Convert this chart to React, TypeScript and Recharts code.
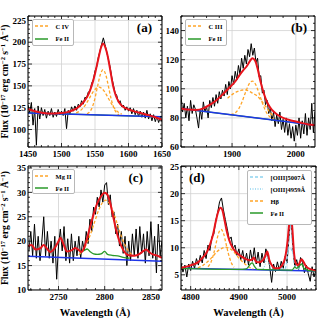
import React from "react";
import { ComposedChart, Line, XAxis, YAxis, CartesianGrid } from "recharts";

const W = 325;
const H = 320;
const SERIF = "'Liberation Serif', 'Times New Roman', serif";
const RED = "#e8141c";
const BLUE = "#1e35e8";
const ORANGE = "#ffa528";
const GREEN = "#2a9a2a";
const SKY = "#8fd3f0";

type Pt = [number, number];

// ---------- (a) C IV ----------
const specA: Pt[] = [
  [1450, 128], [1452.5, 119], [1455, 131], [1457.5, 105], [1460, 124], [1462.5, 82], [1465, 127], [1467.5, 112],
  [1470, 125], [1472.5, 116], [1475, 123], [1477.5, 113], [1480, 121], [1482.5, 116], [1485, 124], [1487.5, 114],
  [1490, 120], [1492.5, 115], [1495, 123], [1497.5, 117], [1500, 121], [1502.5, 116], [1505, 124], [1507.5, 101],
  [1510, 122], [1512.5, 118], [1515, 126], [1517.5, 121], [1520, 127], [1522.5, 122], [1525, 129], [1527.5, 126],
  [1530, 133], [1532.5, 129], [1535, 137], [1537.5, 136], [1540, 143], [1542.5, 144], [1545, 153], [1547.5, 157],
  [1550, 167], [1552.5, 172], [1555, 183], [1557.5, 190], [1560, 198], [1562.5, 205], [1565, 197], [1567.5, 189],
  [1570, 180], [1572.5, 172], [1575, 160], [1577.5, 151], [1580, 142], [1582.5, 139], [1585, 131], [1587.5, 133],
  [1590, 126], [1592.5, 128], [1595, 122], [1597.5, 126], [1600, 121], [1602.5, 125], [1605, 118], [1607.5, 124],
  [1610, 117], [1612.5, 122], [1615, 115], [1617.5, 121], [1620, 114], [1622.5, 120], [1625, 113], [1627.5, 122],
  [1630, 112], [1632.5, 118], [1635, 110], [1637.5, 117], [1640, 109], [1642.5, 115], [1645, 108], [1647.5, 114],
  [1650, 109],
];
const fitA: Pt[] = [
  [1450, 123.5], [1460, 121], [1470, 119.3], [1480, 118.4], [1490, 118.3], [1500, 118.8], [1510, 120.2], [1520, 123],
  [1528, 127.5], [1534, 132.5], [1540, 140], [1545, 150], [1550, 164], [1555, 181], [1559, 194], [1562, 198.5],
  [1565, 195], [1569, 184], [1573, 167], [1577, 150], [1581, 139], [1586, 131], [1592, 126], [1600, 123],
  [1610, 120.5], [1620, 118.5], [1630, 116.5], [1640, 114], [1650, 111],
];
const contA: Pt[] = [[1450, 119], [1650, 114.5]];
const feA: Pt[] = [[1450, 119], [1650, 114.5]];
const civNarrow: Pt[] = [
  [1538, 118], [1542, 120.2], [1546, 125.7], [1550, 135.9], [1554, 150.1], [1558, 163.1], [1562, 168.5],
  [1566, 162.9], [1570, 149.7], [1574, 135.4], [1578, 125], [1582, 119.3], [1586, 116.9],
];
const civBroad: Pt[] = [
  [1522, 119.1], [1528, 121.6], [1532, 124.5], [1536, 128.6], [1540, 133.6], [1544, 139.1], [1548, 144],
  [1552, 147.4], [1556, 148.6], [1560, 147.2], [1564, 143.6], [1568, 138.5], [1572, 132.9], [1576, 127.7],
  [1580, 123.4], [1584, 120.3], [1590, 117.6],
];
const xTicksA = [1450, 1500, 1550, 1600, 1650];
const yTicksA = [100, 125, 150, 175, 200, 225];

// ---------- (b) C III ----------
const specB: Pt[] = [
  [1820, 95], [1822.5, 84], [1825, 90], [1827.5, 80], [1830, 88], [1832.5, 78], [1835, 92], [1837.5, 83],
  [1840, 89], [1842.5, 86], [1845, 80], [1847.5, 73], [1850, 86], [1852.5, 79], [1855, 91], [1857.5, 84],
  [1860, 88], [1862.5, 80], [1865, 92], [1867.5, 87], [1870, 94], [1872.5, 88], [1875, 96], [1877.5, 90],
  [1880, 98], [1882.5, 93], [1885, 99], [1887.5, 95], [1890, 103], [1892.5, 96], [1895, 105], [1897.5, 100],
  [1900, 109], [1902.5, 103], [1905, 112], [1907.5, 106], [1910, 116], [1912.5, 110], [1915, 121], [1917.5, 114],
  [1920, 123], [1922.5, 117], [1925, 127], [1927.5, 122], [1930, 131], [1932.5, 123], [1935, 128], [1937.5, 118],
  [1940, 121], [1942.5, 108], [1945, 109], [1947.5, 97], [1950, 99], [1952.5, 89], [1955, 92], [1957.5, 83],
  [1960, 87], [1962.5, 78], [1965, 84], [1967.5, 74], [1970, 82], [1972.5, 76], [1975, 84], [1977.5, 72],
  [1980, 79], [1982.5, 70], [1985, 80], [1987.5, 68], [1990, 76], [1992.5, 66], [1995, 74], [1997.5, 64],
  [2000, 75], [2002.5, 68], [2005, 80], [2007.5, 66], [2010, 78], [2012.5, 69], [2015, 83], [2017.5, 68],
  [2020, 80], [2022.5, 72], [2025, 90], [2027.5, 70], [2030, 84],
];
const fitB: Pt[] = [
  [1820, 86.4], [1830, 85.7], [1843, 85.4], [1855, 86.5], [1865, 89], [1875, 92], [1885, 96], [1895, 100.5],
  [1905, 105], [1912, 109.5], [1918, 113], [1923, 115.5], [1928, 119], [1932, 121], [1936, 119.5], [1940, 114],
  [1944, 106], [1948, 99.5], [1952, 94], [1957, 89], [1963, 85.3], [1970, 82.5], [1980, 80], [1990, 78.5],
  [2000, 77.5], [2010, 76.4], [2020, 75.5], [2030, 75],
];
const contB: Pt[] = [[1820, 86.4], [2030, 75]];
const feB: Pt[] = [[1820, 86.4], [2030, 75]];
const ciiiNarrow: Pt[] = [
  [1898, 82.3], [1904, 83.2], [1910, 85.9], [1916, 91.4], [1922, 98.6], [1927, 103.6], [1932, 105.3],
  [1937, 102.9], [1942, 97.4], [1948, 89.7], [1954, 83.7], [1960, 80.4], [1966, 79],
];
const ciiiBroad: Pt[] = [
  [1893, 93.5], [1900, 96], [1908, 98], [1915, 99], [1920, 99.2], [1926, 98.5], [1932, 97], [1938, 95.5],
  [1944, 93], [1950, 89.5], [1955, 86.5], [1960, 83.5], [1966, 80.5],
];
const xTicksB = [1900, 2000];
const yTicksB = [60, 80, 100, 120, 140];

// ---------- (c) Mg II ----------
const specC: Pt[] = [
  [2718, 18], [2720, 22], [2722, 17], [2724, 23.5], [2726, 16.5], [2728, 21], [2730, 16], [2732, 20],
  [2734, 25], [2736, 17], [2738, 22], [2740, 16.5], [2742, 20], [2744, 15.5], [2746, 21], [2748, 12.2],
  [2750, 19], [2752, 22.5], [2754, 18], [2756, 23], [2758, 16], [2760, 20.5], [2762, 15.5], [2764, 21.5],
  [2766, 16], [2768, 20], [2770, 17], [2772, 21], [2774, 16.5], [2776, 20], [2778, 18], [2780, 22],
  [2782, 19.5], [2784, 24.5], [2786, 22], [2788, 27], [2790, 25.5], [2792, 29], [2794, 27], [2796, 30.5],
  [2798, 28], [2800, 31.5], [2802, 32], [2804, 27.5], [2806, 29.5], [2808, 25], [2810, 26], [2812, 21.5],
  [2814, 23.5], [2816, 19], [2818, 22], [2820, 17.5], [2822, 21], [2824, 15], [2826, 20], [2828, 16],
  [2830, 21.5], [2832, 17], [2834, 22.5], [2836, 16.5], [2838, 23], [2840, 17.5], [2842, 21.5], [2844, 15.5],
  [2846, 22], [2848, 17], [2850, 24], [2852, 16.5], [2854, 21], [2856, 13.5], [2858, 23.5], [2860, 17],
  [2862, 20],
];
const fitC: Pt[] = [
  [2717, 19], [2721, 19.2], [2725, 18.3], [2730, 18.5], [2734, 19.2], [2737, 18.6], [2741, 17.8], [2746, 18.6],
  [2750, 20], [2752, 20.7], [2755, 19.6], [2759, 17.9], [2764, 18.1], [2768, 18.6], [2771, 18.3], [2775, 17.8],
  [2778, 18.8], [2781, 20.6], [2784, 22.8], [2788, 25.5], [2792, 27.8], [2796, 29.2], [2800, 29.9], [2803, 29.5],
  [2806, 27.8], [2809, 25.2], [2812, 22.6], [2815, 20.5], [2818, 19], [2821, 17.9], [2826, 17.1], [2832, 17],
  [2838, 17.4], [2842, 18], [2845, 18.3], [2848, 17.8], [2852, 17.3], [2856, 17.1], [2862, 16.6],
];
const contC: Pt[] = [[2717, 16.9], [2862, 15.9]];
const mgii: Pt[] = [
  [2772, 17.2], [2778, 18.6], [2784, 21.1], [2789, 23.9], [2794, 26.6], [2798, 28], [2801, 28.4], [2804, 28],
  [2808, 26.6], [2813, 23.9], [2818, 21], [2824, 18.5], [2830, 17.1],
];
const feC: Pt[] = [
  [2775, 17.9], [2778, 18.1], [2781, 18.4], [2784, 17.9], [2788, 17.4], [2792, 17.3], [2796, 17.4], [2800, 17.9],
  [2803, 17.3], [2808, 17.1], [2814, 17], [2820, 16.7], [2827, 16.5],
];
const xTicksC = [2750, 2800, 2850];
const yTicksC = [10, 15, 20, 25, 30, 35];

// ---------- (d) H beta ----------
const specD: Pt[] = [
  [4780, 7.2], [4784, 5.5], [4788, 6.8], [4792, 4.6], [4796, 7], [4800, 5.8], [4804, 7.5], [4808, 6.2],
  [4812, 8], [4816, 6.8], [4820, 8.6], [4824, 7.2], [4828, 9.5], [4832, 8], [4836, 10.5], [4840, 9.5],
  [4844, 12], [4848, 12.5], [4852, 15], [4856, 16.5], [4860, 18.5], [4864, 19.2], [4868, 17], [4872, 15.2],
  [4876, 13.5], [4880, 11.5], [4884, 12], [4888, 9.8], [4892, 10.5], [4896, 8.6], [4900, 9.8], [4904, 7.8],
  [4908, 9.5], [4912, 7.2], [4916, 9], [4920, 6.8], [4924, 9.6], [4928, 7.5], [4932, 10], [4936, 7],
  [4940, 9.2], [4944, 6.5], [4948, 9], [4952, 7.2], [4956, 9.8], [4960, 8.5], [4964, 6.5], [4968, 3.6],
  [4972, 7], [4976, 5.6], [4980, 7.4], [4984, 5.8], [4988, 7.5], [4992, 6.2], [4996, 8.4], [5000, 7.2],
  [5004, 12], [5008, 16.2], [5012, 10], [5016, 6.5], [5020, 7.8], [5024, 6], [5028, 8.2], [5032, 7.3],
  [5036, 5.4], [5040, 6.8], [5044, 5.2], [5048, 3.8], [5052, 6.5], [5056, 4.6], [5060, 6],
];
const fitD: Pt[] = [
  [4780, 6.3], [4795, 6.6], [4805, 6.9], [4815, 7.3], [4823, 8], [4830, 8.7], [4836, 9.6], [4841, 10.8],
  [4846, 12.3], [4852, 14.8], [4857, 16.6], [4862, 17.4], [4866, 16.9], [4870, 15.2], [4875, 13], [4880, 11.4],
  [4887, 10], [4895, 9.1], [4905, 8.4], [4915, 7.9], [4922, 7.7], [4927, 7.8], [4931, 8.2], [4935, 7.5],
  [4942, 7.3], [4950, 7.7], [4955, 8.5], [4959, 9.3], [4963, 7.8], [4968, 6.8], [4975, 6.2], [4982, 6.2],
  [4990, 6.8], [4996, 8.2], [5001, 11.2], [5005, 14.8], [5008, 16], [5011, 13.5], [5014, 9.5], [5018, 7.2],
  [5023, 6.8], [5027, 7.4], [5030, 7.9], [5034, 7.4], [5040, 6.5], [5050, 6], [5060, 5.8],
];
const contD: Pt[] = [[4780, 6.2], [5060, 5.7]];
const hbNarrow: Pt[] = [
  [4836, 6.5], [4842, 7.3], [4848, 9], [4853, 10.9], [4858, 12.7], [4863, 13.4], [4868, 12.7], [4873, 10.9],
  [4878, 9], [4884, 7.3], [4890, 6.4],
];
const hbBroad: Pt[] = [
  [4815, 6.3], [4825, 6.7], [4835, 7.4], [4845, 8.3], [4855, 9.3], [4865, 9.9], [4872, 10.1], [4880, 9.9],
  [4890, 9.2], [4900, 8.1], [4910, 7.2], [4920, 6.5], [4930, 6.1],
];
const o3Core: Pt[] = [
  [4996, 6.1], [4999, 7.2], [5002, 9.6], [5005, 13.2], [5007, 15.2], [5009, 13.2], [5012, 9.6], [5015, 7.2], [5018, 6.1],
];
const o3Wing: Pt[] = [
  [4986, 6], [4992, 6.8], [4997, 8.2], [5002, 9.5], [5006, 10], [5010, 9.5], [5015, 8.2], [5020, 6.8], [5026, 6],
];
const o3Weak: Pt[] = [[4950, 6.1], [4954, 6.8], [4957, 8], [4959, 8.5], [4961, 8], [4964, 6.8], [4968, 6.1]];
const feD: Pt[] = [
  [4780, 6.2], [4900, 6], [4915, 6.1], [4920, 6.5], [4924, 7], [4928, 7.2], [4932, 6.6], [4938, 6],
  [5010, 5.85], [5016, 6.4], [5020, 6.2], [5026, 6.7], [5030, 7], [5035, 6.2], [5045, 5.8], [5060, 5.7],
];
const xTicksD = [4800, 4900, 5000];
const yTicksD = [5, 10, 15, 20, 25];

// ---------- helpers ----------
const tickFont = { fontSize: 9, fontWeight: 700, fill: "#000", fontFamily: SERIF };
const tl = { stroke: "#000", strokeWidth: 0.8 };
const frameLine = { stroke: "#000", strokeWidth: 1 };
const blank = () => "";

function minor(lo: number, hi: number, step: number, major: number[]) {
  const out: number[] = [];
  for (let v = Math.ceil(lo / step) * step; v <= hi + 1e-9; v += step) {
    const r = Math.round(v * 100) / 100;
    if (!major.includes(r)) out.push(r);
  }
  return out;
}

function Tag(props: any) {
  const vb = props.viewBox ?? { x: 0, y: 0, width: 0 };
  const right = props.side !== "left";
  return (
    <text
      x={right ? vb.x + vb.width - props.gap : vb.x + props.gap}
      y={vb.y + 16}
      textAnchor={right ? "end" : "start"}
      fontFamily={SERIF}
      fontWeight={700}
      fontSize={13}
      fill="#000"
    >
      {props.txt}
    </text>
  );
}

function XTitle(props: any) {
  const vb = props.viewBox ?? { x: 0, y: 0, width: 0 };
  return (
    <text x={vb.x + vb.width / 2} y={vb.y + 26.5} textAnchor="middle" fontFamily={SERIF} fontWeight={700} fontSize={10.5} fill="#000">
      Wavelength (Å)
    </text>
  );
}

function FluxTitle(props: any) {
  const vb = props.viewBox ?? { x: 0, y: 0, height: 0 };
  const cy = vb.y + vb.height / 2;
  const up = -3.5;
  return (
    <text transform={`translate(${vb.x - 20},${cy}) rotate(-90)`} textAnchor="middle" fontFamily={SERIF} fontWeight={700} fontSize={9.6} fill="#000">
      <tspan>Flux (10</tspan>
      <tspan fontSize={6.5} dy={up}>−17</tspan>
      <tspan dy={-up}> erg cm</tspan>
      <tspan fontSize={6.5} dy={up}>−2</tspan>
      <tspan dy={-up}> s</tspan>
      <tspan fontSize={6.5} dy={up}>−1</tspan>
      <tspan dy={-up}> Å</tspan>
      <tspan fontSize={6.5} dy={up}>−1</tspan>
      <tspan dy={-up}>)</tspan>
    </text>
  );
}

type Series = { id: string; pts: Pt[]; color: string; width: number; dash?: string; curve?: "linear" | "monotone" };

interface PanelProps {
  box: [number, number, number, number];
  xDom: [number, number];
  yDom: [number, number];
  xMaj: number[];
  yMaj: number[];
  xStep: number;
  yStep: number;
  tag: string;
  tagSide: "left" | "right";
  tagGap: number;
  series: Series[];
  xTitle?: boolean;
  yTitle?: boolean;
}

function Panel({ box, xDom, yDom, xMaj, yMaj, xStep, yStep, tag, tagSide, tagGap, series, xTitle, yTitle }: PanelProps) {
  const [l, t, r, b] = box;
  const xMin = minor(xDom[0], xDom[1], xStep, xMaj);
  const yMin = minor(yDom[0], yDom[1], yStep, yMaj);
  const xc = { type: "number" as const, dataKey: "x", domain: xDom, allowDataOverflow: true, interval: 0 as const, height: 0.01, tickLine: tl };
  const yc = { type: "number" as const, domain: yDom, allowDataOverflow: true, interval: 0 as const, width: 0.01, tickLine: tl };
  return (
    <div style={{ position: "absolute", left: 0, top: 0 }}>
      <ComposedChart width={W} height={H} margin={{ left: l, top: t, right: W - r, bottom: H - b }}>
        <CartesianGrid stroke="#d2d2d2" strokeWidth={0.8} />
        <XAxis xAxisId={0} {...xc} ticks={xMaj} tickSize={-4} tickMargin={8} tick={tickFont} axisLine={frameLine} label={xTitle ? <XTitle /> : undefined} />
        <XAxis xAxisId="xm" {...xc} ticks={xMin} tickSize={-2} axisLine={false} tickFormatter={blank} />
        <XAxis xAxisId="xt" {...xc} orientation="top" ticks={xMaj} tickSize={-4} axisLine={frameLine} tickFormatter={blank} label={<Tag txt={tag} side={tagSide} gap={tagGap} />} />
        <XAxis xAxisId="xtm" {...xc} orientation="top" ticks={xMin} tickSize={-2} axisLine={false} tickFormatter={blank} />
        <YAxis yAxisId={0} {...yc} ticks={yMaj} tickSize={-4} tickMargin={6} tick={tickFont} axisLine={frameLine} label={yTitle ? <FluxTitle /> : undefined} />
        <YAxis yAxisId="ym" {...yc} ticks={yMin} tickSize={-2} axisLine={false} tickFormatter={blank} />
        <YAxis yAxisId="yr" {...yc} orientation="right" ticks={yMaj} tickSize={-4} axisLine={frameLine} tickFormatter={blank} />
        <YAxis yAxisId="yrm" {...yc} orientation="right" ticks={yMin} tickSize={-2} axisLine={false} tickFormatter={blank} />
        {series.map((s) => (
          <Line
            key={s.id}
            data={s.pts.map(([x, y]) => ({ x, y }))}
            dataKey="y"
            type={s.curve ?? "monotone"}
            stroke={s.color}
            strokeWidth={s.width}
            strokeDasharray={s.dash}
            dot={false}
            activeDot={false}
            legendType="none"
            isAnimationActive={false}
          />
        ))}
      </ComposedChart>
    </div>
  );
}

type Item = { name: string; color: string; dash?: string };

function LegendBox({ left, top, width, height, rowH, items }: { left: number; top: number; width: number; height: number; rowH: number; items: Item[] }) {
  return (
    <div
      style={{
        position: "absolute", left, top, width, height, boxSizing: "border-box",
        border: "1px solid #b8b8b8", borderRadius: 2, background: "#fff",
        fontFamily: SERIF, fontWeight: 700, fontSize: 6.5, color: "#000",
      }}
    >
      {items.map((it) => (
        <div key={it.name} style={{ display: "flex", alignItems: "center", height: rowH, paddingLeft: 1.5 }}>
          <svg width={13} height={4} style={{ display: "block" }}>
            <line x1={0} y1={2} x2={13} y2={2} stroke={it.color} strokeWidth={1.5} strokeDasharray={it.dash} />
          </svg>
          <span style={{ marginLeft: 8, whiteSpace: "nowrap" }}>{it.name}</span>
        </div>
      ))}
    </div>
  );
}

const DASH = "3 2";

export default function App() {
  return (
    <div style={{ position: "absolute", left: 0, top: 0, width: W, height: H, background: "#fff" }}>
      <Panel
        box={[28, 16, 162, 147]} xDom={[1450, 1650]} yDom={[80, 230]} xMaj={xTicksA} yMaj={yTicksA} xStep={10} yStep={5}
        tag="(a)" tagSide="right" tagGap={10} yTitle
        series={[
          { id: "spec", pts: specA, color: "#000", width: 1, curve: "linear" },
          { id: "civn", pts: civNarrow, color: ORANGE, width: 1.3, dash: DASH },
          { id: "civb", pts: civBroad, color: ORANGE, width: 1.3, dash: DASH },
          { id: "fe", pts: feA, color: GREEN, width: 1.3 },
          { id: "cont", pts: contA, color: BLUE, width: 1.5, curve: "linear" },
          { id: "fit", pts: fitA, color: RED, width: 2 },
        ]}
      />
      <Panel
        box={[181, 16, 315, 147]} xDom={[1820, 2030]} yDom={[60, 150]} xMaj={xTicksB} yMaj={yTicksB} xStep={20} yStep={5}
        tag="(b)" tagSide="right" tagGap={8}
        series={[
          { id: "spec", pts: specB, color: "#000", width: 1, curve: "linear" },
          { id: "ciiin", pts: ciiiNarrow, color: ORANGE, width: 1.3, dash: DASH },
          { id: "ciiib", pts: ciiiBroad, color: ORANGE, width: 1.3, dash: DASH },
          { id: "fe", pts: feB, color: GREEN, width: 1.3 },
          { id: "cont", pts: contB, color: BLUE, width: 1.5, curve: "linear" },
          { id: "fit", pts: fitB, color: RED, width: 2 },
        ]}
      />
      <Panel
        box={[28, 166, 162, 290]} xDom={[2717, 2862]} yDom={[10, 35.4]} xMaj={xTicksC} yMaj={yTicksC} xStep={10} yStep={1}
        tag="(c)" tagSide="right" tagGap={19} xTitle yTitle
        series={[
          { id: "spec", pts: specC, color: "#000", width: 1, curve: "linear" },
          { id: "cont", pts: contC, color: BLUE, width: 1.5, curve: "linear" },
          { id: "fe", pts: feC, color: GREEN, width: 1.3 },
          { id: "mg", pts: mgii, color: ORANGE, width: 1.3, dash: DASH },
          { id: "fit", pts: fitC, color: RED, width: 2 },
        ]}
      />
      <Panel
        box={[181, 166, 316, 290]} xDom={[4780, 5060]} yDom={[2.2, 25.1]} xMaj={xTicksD} yMaj={yTicksD} xStep={10} yStep={1}
        tag="(d)" tagSide="left" tagGap={8} xTitle
        series={[
          { id: "spec", pts: specD, color: "#000", width: 1, curve: "linear" },
          { id: "cont", pts: contD, color: BLUE, width: 1.5, curve: "linear" },
          { id: "o3c", pts: o3Core, color: SKY, width: 1.2, dash: DASH },
          { id: "o3w", pts: o3Wing, color: SKY, width: 1.2, dash: DASH },
          { id: "o3b", pts: o3Weak, color: SKY, width: 1.2, dash: "1 1.5" },
          { id: "hbn", pts: hbNarrow, color: ORANGE, width: 1.3, dash: DASH },
          { id: "hbb", pts: hbBroad, color: ORANGE, width: 1.3, dash: DASH },
          { id: "fe", pts: feD, color: GREEN, width: 1.3 },
          { id: "fit", pts: fitD, color: RED, width: 2 },
        ]}
      />
      <LegendBox left={32} top={19} width={42} height={27} rowH={12.5} items={[{ name: "C IV", color: ORANGE, dash: DASH }, { name: "Fe II", color: GREEN }]} />
      <LegendBox left={185} top={19} width={42} height={27} rowH={12.5} items={[{ name: "C III", color: ORANGE, dash: DASH }, { name: "Fe II", color: GREEN }]} />
      <LegendBox left={32} top={169} width={43} height={25} rowH={12.3} items={[{ name: "Mg II", color: ORANGE, dash: DASH }, { name: "Fe II", color: GREEN }]} />
      <LegendBox
        left={247} top={170} width={65} height={55} rowH={12}
        items={[
          { name: "[OIII]5007Å", color: SKY, dash: DASH },
          { name: "[OIII]4959Å", color: SKY, dash: "1 1.5" },
          { name: "Hβ", color: ORANGE, dash: DASH },
          { name: "Fe II", color: GREEN },
        ]}
      />
    </div>
  );
}
